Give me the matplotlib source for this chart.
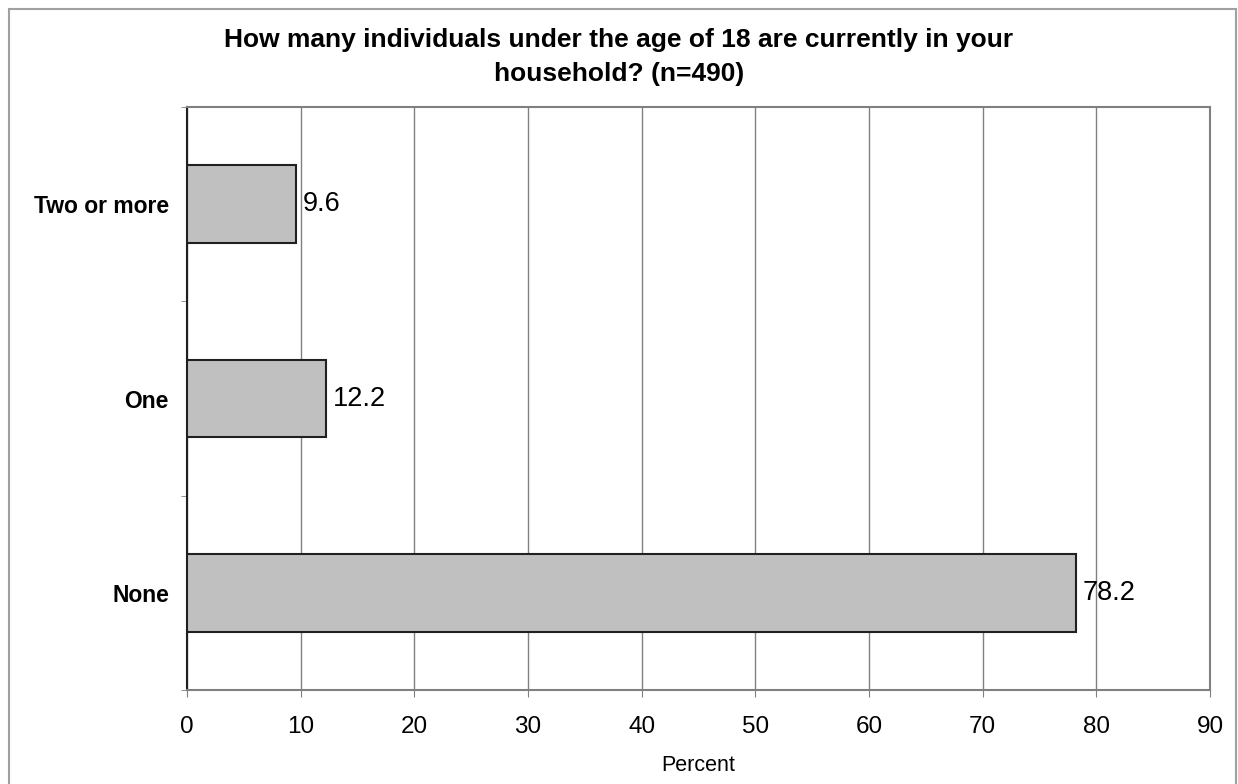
import matplotlib.pyplot as plt
from matplotlib.patches import Rectangle

plt.rcParams['font.family'] = ['Liberation Sans', 'DejaVu Sans']

# Data
categories = ['None', 'One', 'Two or more']
percent = [78.2, 12.2, 9.6]
x_ticks = [0, 10, 20, 30, 40, 50, 60, 70, 80, 90]

fig = plt.figure(figsize=(12.38, 7.84), dpi=100)
ax = fig.add_axes([0.151, 0.1199, 0.8264, 0.7436])

# outer gray border of the chart area
fig.patches.append(Rectangle((0.007, -0.01), 0.991, 0.999, transform=fig.transFigure,
                             fill=False, edgecolor='#a0a0a0', linewidth=1.5))

ypos = list(range(len(categories)))
ax.barh(ypos, percent, height=0.4, color='#c0c0c0', edgecolor='#202020', linewidth=1.5, zorder=3)

for y, v in zip(ypos, percent):
    ax.text(v + 0.6, y, f'{v:.1f}', va='center', ha='left', fontsize=19.5, zorder=4)

ax.set_xlim(0, 90)
ax.set_ylim(-0.5, 2.5)
ax.set_xticks(x_ticks)
ax.set_xticklabels([str(t) for t in x_ticks], fontsize=17.5)
ax.set_yticks(ypos)
ax.set_yticklabels(categories, fontsize=16.5, fontweight='bold')
ax.set_yticks([-0.5, 0.5, 1.5, 2.5], minor=True)
ax.tick_params(axis='y', which='major', length=0, pad=13)
ax.tick_params(axis='y', which='minor', length=4, color='#808080')
ax.tick_params(axis='x', length=5, color='#808080', pad=14)

ax.grid(axis='x', color='#808080', linewidth=1, zorder=0)
for side in ['top', 'right', 'bottom']:
    ax.spines[side].set_color('#808080')
    ax.spines[side].set_linewidth(1.5)
ax.spines['left'].set_color('#202020')
ax.spines['left'].set_linewidth(1.5)

ax.set_xlabel('Percent', fontsize=15.5, labelpad=12)
fig.text(0.5, 0.927, 'How many individuals under the age of 18 are currently in your\nhousehold? (n=490)',
         ha='center', va='center', fontsize=19, fontweight='bold', linespacing=1.55)

fig.savefig('out.png', dpi=100)
